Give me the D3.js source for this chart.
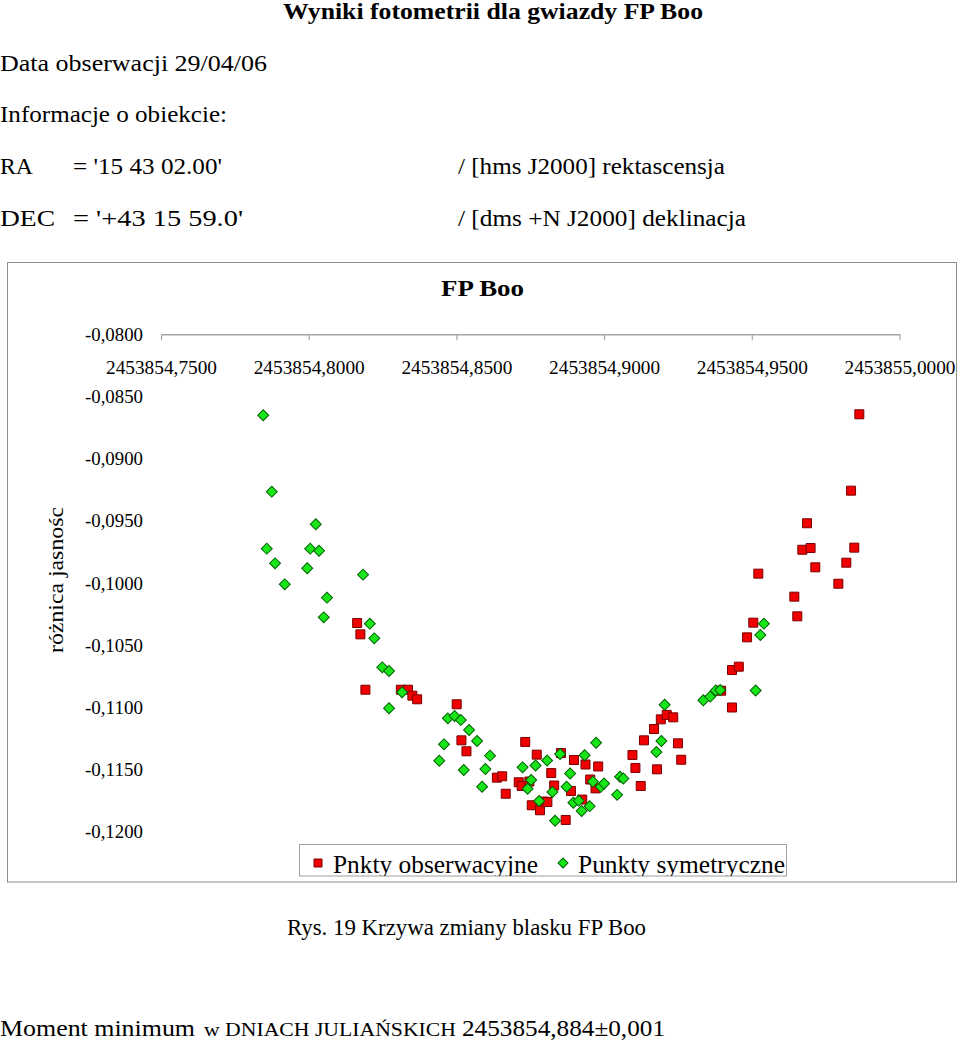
<!DOCTYPE html>
<html><head><meta charset="utf-8">
<script src="https://cdn.jsdelivr.net/npm/d3@7/dist/d3.min.js"></script>
<style>
html,body{margin:0;padding:0;background:#fff;}
svg{display:block;}
svg text{font-family:"Liberation Serif","DejaVu Serif",serif !important;}
</style></head>
<body>
<svg id="c" width="960" height="1043"></svg>
<script>
// Observed points (JD, magnitude difference)
const obsJD = [2453854.8164,2453854.8175,2453854.8192,2453854.8312,2453854.8336,2453854.8351,2453854.8367,
2453854.8501,2453854.8517,2453854.8534,2453854.8637,2453854.8655,2453854.8667,2453854.8711,2453854.8721,
2453854.8733,2453854.8747,2453854.8755,2453854.8772,2453854.8783,2453854.8796,2453854.8808,2453854.8821,
2453854.8831,2453854.8854,2453854.8870,2453854.8888,2453854.8898,2453854.8926,2453854.8937,2453854.8953,
2453854.8971,2453854.8980,2453854.9096,2453854.9106,2453854.9124,2453854.9135,2453854.9169,2453854.9179,
2453854.9192,2453854.9212,2453854.9234,2453854.9250,2453854.9261,2453854.9396,2453854.9433,2453854.9433,
2453854.9456,2453854.9484,2453854.9505,2453854.9522,2453854.9644,2453854.9654,2453854.9671,2453854.9687,
2453854.9699,2453854.9715,2453854.9793,2453854.9820,2453854.9836,2453854.9847,2453854.9864];
const obsMag = [-0.10321,-0.10412,-0.10857,-0.10857,-0.10857,-0.10905,-0.10934,
-0.10974,-0.11264,-0.11352,-0.11564,-0.11553,-0.11693,-0.11601,-0.11631,
-0.11277,-0.11595,-0.11786,-0.11379,-0.11826,-0.11756,-0.11760,-0.11527,
-0.11627,-0.11366,-0.11904,-0.11671,-0.11422,-0.11740,-0.11458,-0.11579,
-0.11650,-0.11474,-0.11382,-0.11486,-0.11631,-0.11264,-0.11173,-0.11497,
-0.11095,-0.11060,-0.11079,-0.11288,-0.11420,-0.10865,-0.11000,-0.10699,
-0.10672,-0.10436,-0.10318,-0.09924,-0.10109,-0.10267,-0.09732,-0.09519,
-0.09718,-0.09873,-0.10005,-0.09836,-0.09257,-0.09715,-0.08643];
// Symmetric (mirrored) points
const symJD = [2453854.7846,2453854.7875,2453854.7858,2453854.7886,2453854.7919,2453854.7995,2453854.8005,
2453854.8024,2453854.8035,2453854.8051,2453854.8062,2453854.8184,2453854.8207,2453854.8222,2453854.8249,
2453854.8272,2453854.8272,2453854.8316,2453854.8442,2453854.8458,2453854.8471,2453854.8494,2453854.8515,
2453854.8525,2453854.8543,2453854.8570,2453854.8587,2453854.8598,2453854.8614,2453854.8724,2453854.8741,
2453854.8753,2453854.8768,2453854.8780,2453854.8807,2453854.8825,2453854.8834,2453854.8851,2453854.8873,
2453854.8885,2453854.8896,2453854.8914,2453854.8924,2453854.8934,2453854.8951,2453854.8962,2453854.8973,
2453854.8989,2453854.9000,2453854.9044,2453854.9054,2453854.9065,2453854.9177,2453854.9194,2453854.9205,
2453854.9336,2453854.9359,2453854.9378,2453854.9393,2453854.9513,2453854.9529,2453854.9541];
const symMag = [-0.08651,-0.09265,-0.09723,-0.09841,-0.10010,-0.09881,-0.09723,
-0.09527,-0.09740,-0.10275,-0.10117,-0.09932,-0.10326,-0.10444,-0.10677,
-0.10707,-0.11006,-0.10878,-0.11428,-0.11296,-0.11087,-0.11068,-0.11100,
-0.11502,-0.11181,-0.11269,-0.11637,-0.11494,-0.11387,-0.11481,-0.11653,
-0.11583,-0.11466,-0.11752,-0.11426,-0.11679,-0.11910,-0.11374,-0.11637,
-0.11531,-0.11766,-0.11749,-0.11832,-0.11384,-0.11793,-0.11596,-0.11283,
-0.11638,-0.11611,-0.11702,-0.11557,-0.11571,-0.11358,-0.11269,-0.10978,
-0.10942,-0.10913,-0.10863,-0.10859,-0.10863,-0.10417,-0.10326];
const xTicks = [2453854.75,2453854.80,2453854.85,2453854.90,2453854.95,2453855.00];
const yTicks = [-0.080,-0.085,-0.090,-0.095,-0.100,-0.105,-0.110,-0.115,-0.120];

const svg = d3.select("#c");
const x = d3.scaleLinear().domain([2453854.75,2453855.00]).range([161,899.5]);
const y = d3.scaleLinear().domain([-0.08,-0.12]).range([334.3,831.9]);

function txt(s, px, py, opts={}) {
  const t = svg.append("text").attr("x",px).attr("y",py).text(s)
    .attr("font-size",opts.size||24).attr("fill","#000");
  if (opts.bold) t.attr("font-weight","bold");
  if (opts.anchor) t.attr("text-anchor",opts.anchor);
  if (opts.len) t.attr("textLength",opts.len).attr("lengthAdjust","spacingAndGlyphs");
  return t;
}

// Header texts
txt("Wyniki fotometrii dla gwiazdy FP Boo",283,19,{bold:true,size:23,len:420});
txt("Data obserwacji 29/04/06",0,71,{len:267});
txt("Informacje o obiekcie:",0,122,{len:227});
txt("RA",0,174,{len:33});
txt("= '15 43 02.00'",73,174,{len:149});
txt("/ [hms J2000] rektascensja",458,174,{len:267});
txt("DEC",0,226,{len:55});
txt("= '+43 15 59.0'",73,226,{len:170});
txt("/ [dms +N J2000] deklinacja",458,226,{len:288});

// Chart frame
svg.append("rect").attr("x",7.5).attr("y",262.5).attr("width",949).attr("height",619.5)
  .attr("fill","#fff").attr("stroke","#8c8c8c").attr("stroke-width",1);
txt("FP Boo",482.5,296,{bold:true,size:23,len:83,anchor:"middle"});

// X axis (at top, crossing at -0.08)
const xAxis = d3.axisBottom(x).tickValues(xTicks).tickSize(6).tickSizeOuter(0)
  .tickFormat(d => d.toFixed(4).replace(".",","));
const gx = svg.append("g").attr("transform",`translate(0,${y(-0.08)})`).call(xAxis);
gx.select(".domain").attr("stroke","#a6a6a6").attr("stroke-width",1.5);
gx.selectAll(".tick line").attr("stroke","#a6a6a6").attr("stroke-width",1.2);
gx.selectAll(".tick text").attr("font-size",19)
  .attr("fill","#000").attr("y",26).attr("dy","0.71em").attr("textLength",111).attr("lengthAdjust","spacingAndGlyphs");

// Y axis labels (no axis line)
const yAxis = d3.axisLeft(y).tickValues(yTicks).tickSize(0)
  .tickFormat(d => d.toFixed(4).replace(".",","));
const gy = svg.append("g").attr("transform","translate(161,0)").call(yAxis);
gy.select(".domain").remove();
gy.selectAll(".tick text").attr("font-size",19)
  .attr("fill","#000").attr("x",-18).attr("textLength",58).attr("lengthAdjust","spacingAndGlyphs");

// Y axis title
svg.append("text").attr("transform","translate(63,580) rotate(-90)").attr("text-anchor","middle")
  .attr("font-size",21).attr("textLength",146).attr("lengthAdjust","spacingAndGlyphs")
  .text("różnica jasnośc");

// Marks
const sq = d3.symbol().type(d3.symbolSquare).size(81);
const dm = d3.symbol().type(d3.symbolSquare).size(60);
svg.append("g").selectAll("path").data(obsJD.map((d,i)=>[d,obsMag[i]])).join("path")
  .attr("d",sq).attr("transform",d=>`translate(${x(d[0])},${y(d[1])})`)
  .attr("fill","#f00000").attr("stroke","#7a0000").attr("stroke-width",1);
svg.append("g").selectAll("path").data(symJD.map((d,i)=>[d,symMag[i]])).join("path")
  .attr("d",dm).attr("transform",d=>`translate(${x(d[0])},${y(d[1])}) rotate(45)`)
  .attr("fill","#19e619").attr("stroke","#006000").attr("stroke-width",1);

// Legend
svg.append("clipPath").attr("id","lg").append("rect").attr("x",299.5).attr("y",844.5).attr("width",487).attr("height",31.5);
svg.append("rect").attr("x",299.5).attr("y",844.5).attr("width",487).attr("height",31.5)
  .attr("fill","#fff").attr("stroke","#a0a0a0").attr("stroke-width",1);
const lg = svg.append("g").attr("clip-path","url(#lg)");
lg.append("path").attr("d",d3.symbol().type(d3.symbolSquare).size(64)).attr("transform","translate(318,863)")
  .attr("fill","#f00000").attr("stroke","#7a0000");
lg.append("text").attr("x",333).attr("y",873).attr("font-size",25).attr("textLength",205)
  .attr("lengthAdjust","spacingAndGlyphs").text("Pnkty obserwacyjne");
lg.append("path").attr("d",d3.symbol().type(d3.symbolSquare).size(50)).attr("transform","translate(563,863) rotate(45)")
  .attr("fill","#19e619").attr("stroke","#006000");
lg.append("text").attr("x",578).attr("y",873).attr("font-size",25).attr("textLength",207)
  .attr("lengthAdjust","spacingAndGlyphs").text("Punkty symetryczne");

// Caption & footer
txt("Rys. 19 Krzywa zmiany blasku FP Boo",287,935,{size:23,len:359});
txt("Moment minimum",0,1036,{len:195});
txt("w DNIACH JULIAŃSKICH",204,1036,{size:18,len:252});
txt("2453854,884±0,001",462,1036,{len:203});
</script>
</body></html>
